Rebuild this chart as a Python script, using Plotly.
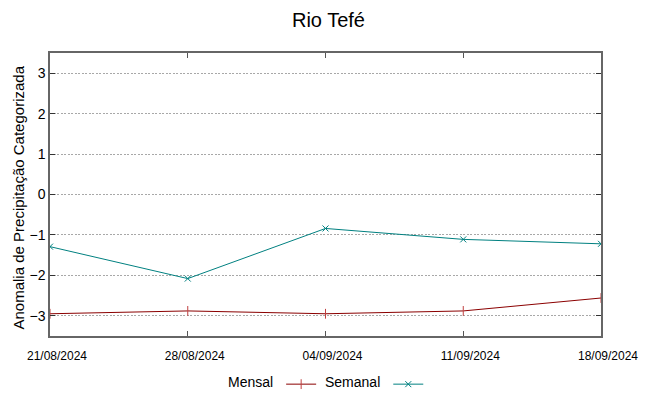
import plotly.graph_objects as go

dates = ["2024-08-21", "2024-08-28", "2024-09-04", "2024-09-11", "2024-09-18"]
date_labels = ["21/08/2024", "28/08/2024", "04/09/2024", "11/09/2024", "18/09/2024"]
mensal = [-2.95, -2.88, -2.95, -2.88, -2.56]
semanal = [-1.29, -2.08, -0.84, -1.11, -1.22]
y_ticks = [-3, -2, -1, 0, 1, 2, 3]

fig = go.Figure()
fig.add_trace(go.Scatter(x=dates, y=mensal, name="", legend="legend", mode="lines+markers",
                         hovertemplate="Mensal: %{y}<extra></extra>",
                         line=dict(color="#8b0000", width=1),
                         marker=dict(symbol="line-ns", size=7, line=dict(color="#c04040", width=1))))
fig.add_trace(go.Scatter(x=dates, y=semanal, name="", legend="legend2", mode="lines+markers",
                         hovertemplate="Semanal: %{y}<extra></extra>",
                         line=dict(color="#008080", width=1),
                         marker=dict(symbol="x-thin", size=6, line=dict(color="#008080", width=1))))

leg_common = dict(orientation="h", xanchor="left", y=-0.115, yanchor="top",
                  font=dict(size=14), bgcolor="rgba(0,0,0,0)", borderwidth=0)
fig.update_layout(
    width=641, height=388,
    margin=dict(l=42, r=48, t=45, b=60, autoexpand=False),
    paper_bgcolor="white", plot_bgcolor="white",
    font=dict(family="Liberation Sans, Arial, sans-serif", color="black", size=14),
    title=dict(text="Rio Tefé", x=0.5, xanchor="center", y=0.969, yanchor="middle",
               yref="container", font=dict(size=20)),
    showlegend=True,
    legend=dict(x=(226 - 50) / 551, title=dict(text="Mensal", side="left", font=dict(size=14)), **leg_common),
    legend2=dict(x=(323 - 50) / 551, title=dict(text="Semanal", side="left", font=dict(size=14)), **leg_common),
    annotations=[dict(text="Anomalia de Precipitação Categorizada", textangle=-90,
                      xref="paper", yref="paper", x=0, y=0.5, xanchor="center", yanchor="middle",
                      xshift=-32, yshift=-3, showarrow=False, font=dict(size=15))],
)
fig.update_xaxes(
    type="date", range=[dates[0], dates[-1]], automargin=False,
    tickvals=dates, ticktext=date_labels, tickfont=dict(size=12),
    ticklabelstandoff=8, ticklabelshift=7,
    ticks="inside", ticklen=5, tickcolor="#555", mirror="allticks",
    showline=True, linecolor="#666", linewidth=1.5, showgrid=False, zeroline=False,
)
fig.update_yaxes(
    range=[-3.5, 3.5], tickvals=y_ticks, tickfont=dict(size=14), automargin=False,
    ticks="inside", ticklen=5, tickcolor="#333", mirror="allticks",
    showline=True, linecolor="#666", linewidth=1.5,
    showgrid=True, gridcolor="#a8a8a8", griddash="2px,1.5px", gridwidth=1, zeroline=False,
)
fig.write_html("out.html")
